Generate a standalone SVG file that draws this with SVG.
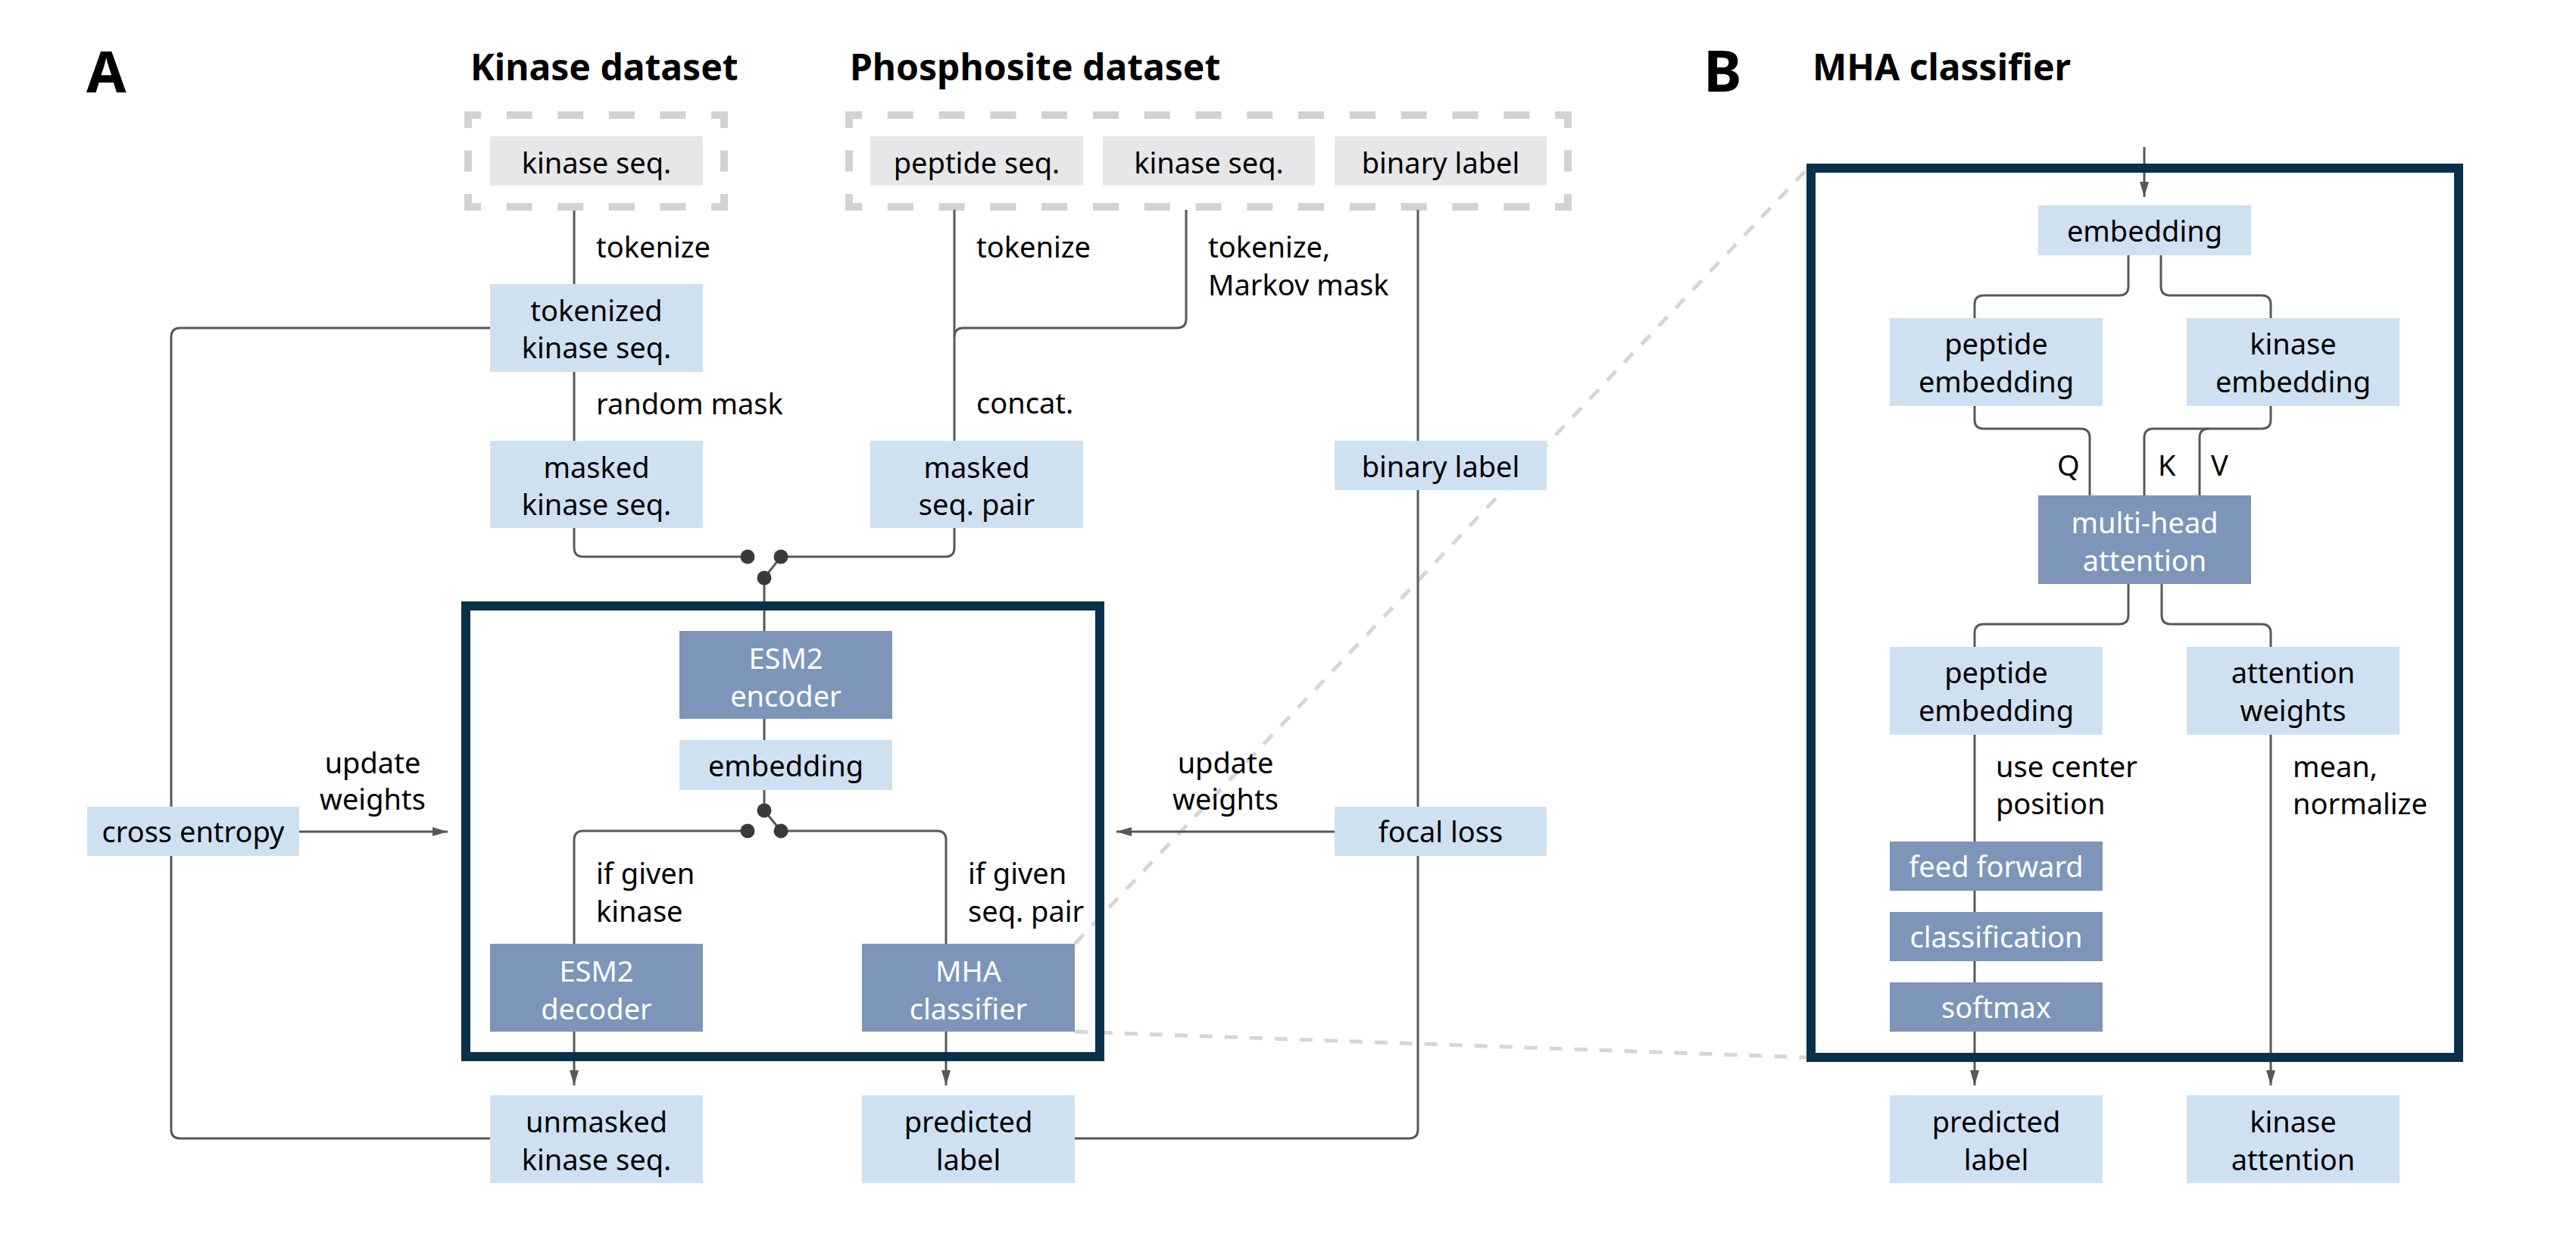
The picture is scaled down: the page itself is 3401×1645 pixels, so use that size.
<svg xmlns="http://www.w3.org/2000/svg" width="3401" height="1645" viewBox="0 0 3401 1645">
<style>
.t{font-family:"Noto Sans","Open Sans","DejaVu Sans",sans-serif;font-size:38px;fill:#000}
.c{text-anchor:middle}
.w{fill:#fff}
.h{font-family:"Noto Sans","Open Sans","DejaVu Sans",sans-serif;font-size:48px;font-weight:700;fill:#000}
.p{font-family:"Noto Sans","Open Sans","DejaVu Sans",sans-serif;font-size:76px;font-weight:700;fill:#000}
.lb{fill:#cfe1f0}
.db{fill:#7d95b9}
.gb{fill:#e6e7e8}
.ln{fill:none;stroke:#58585a;stroke-width:3}
.ar{fill:none;stroke:#58585a;stroke-width:3;marker-end:url(#ah)}
.dot{fill:#3a3a3c}
.dash{fill:none;stroke:#d1d2d4;stroke-width:10}
.zoom{fill:none;stroke:#d6d6d6;stroke-width:5;stroke-dasharray:17 16}
.frame{fill:none;stroke:#08304a;stroke-width:12}
</style>
<defs>
<marker id="ah" markerUnits="userSpaceOnUse" markerWidth="20" markerHeight="12" refX="20" refY="6" orient="auto">
<path d="M0,0 L20,6 L0,12 z" fill="#58585a"/>
</marker>
</defs>
<rect width="3401" height="1645" fill="#fff"/>

<g id="zoom-lines">
<path class="zoom" d="M1419 1246 L2385 224"/>
<path class="zoom" d="M1419 1362 L2385 1396"/>
</g>

<g id="titles">
<text class="p" x="114" y="122">A</text>
<text class="h" x="621" y="106">Kinase dataset</text>
<text class="h" x="1122" y="106">Phosphosite dataset</text>
<text class="p" x="2249" y="121">B</text>
<text class="h" x="2393" y="106">MHA classifier</text>
</g>

<g id="kinase-dataset">
<line class="dash" x1="613" y1="152" x2="961" y2="152" stroke-dasharray="34 33.6" stroke-dashoffset="12"/>
<line class="dash" x1="613" y1="273" x2="961" y2="273" stroke-dasharray="34 33.6" stroke-dashoffset="12"/>
<line class="dash" x1="618" y1="147" x2="618" y2="278" stroke-dasharray="22 29.5 28 29.5 22"/>
<line class="dash" x1="956" y1="147" x2="956" y2="278" stroke-dasharray="22 29.5 28 29.5 22"/>
</g>
<g id="phosphosite-dataset">
<line class="dash" x1="1116" y1="152" x2="2075" y2="152" stroke-dasharray="34 33.79" stroke-dashoffset="12"/>
<line class="dash" x1="1116" y1="273" x2="2075" y2="273" stroke-dasharray="34 33.79" stroke-dashoffset="12"/>
<line class="dash" x1="1121" y1="147" x2="1121" y2="278" stroke-dasharray="22 29.5 28 29.5 22"/>
<line class="dash" x1="2070" y1="147" x2="2070" y2="278" stroke-dasharray="22 29.5 28 29.5 22"/>
</g>

<g id="connectors">
<path class="ln" d="M758 278 V375"/>
<path class="ln" d="M758 491 V582"/>
<path class="ln" d="M647 433 H238 Q226 433 226 445 V1491 Q226 1503 238 1503 H647"/>
<path class="ln" d="M758 697 V723 Q758 735 770 735 H987"/>
<path class="ln" d="M1260 697 V723 Q1260 735 1248 735 H1031"/>
<path class="ln" d="M1031 735 L1009 763"/>
<path class="ln" d="M1009 763 V833"/>
<path class="ln" d="M1009 949 V977"/>
<path class="ln" d="M1009 1043 V1070"/>
<path class="ln" d="M1009 1070 L1031 1097"/>
<path class="ln" d="M987 1097 H770 Q758 1097 758 1109 V1246"/>
<path class="ln" d="M1031 1097 H1237 Q1249 1097 1249 1109 V1246"/>
<path class="ar" d="M758 1362 V1433"/>
<path class="ar" d="M1249 1362 V1433"/>
<path class="ln" d="M1260 277 V582"/>
<path class="ln" d="M1566 277 V421 Q1566 433 1554 433 H1272 Q1260 433 1260 445"/>
<path class="ln" d="M1872 277 V582"/>
<path class="ln" d="M1872 647 V1491 Q1872 1503 1860 1503 H1419"/>
<path class="ar" d="M395 1098 H591"/>
<path class="ar" d="M1762 1098 H1474"/>
<path class="ar" d="M2831 194 V260"/>
<path class="ln" d="M2810 337 V378 Q2810 390 2798 390 H2619 Q2607 390 2607 402 V420"/>
<path class="ln" d="M2853 337 V378 Q2853 390 2865 390 H2986 Q2998 390 2998 402 V420"/>
<path class="ln" d="M2607 536 V554 Q2607 566 2619 566 H2747 Q2759 566 2759 578 V654"/>
<path class="ln" d="M2998 536 V554 Q2998 566 2986 566 H2843 Q2831 566 2831 578 V654"/>
<path class="ln" d="M2916 566 Q2904 566 2904 578 V654"/>
<path class="ln" d="M2810 771 V812 Q2810 824 2798 824 H2619 Q2607 824 2607 836 V854"/>
<path class="ln" d="M2854 771 V812 Q2854 824 2866 824 H2986 Q2998 824 2998 836 V854"/>
<path class="ln" d="M2607 970 V1111"/>
<path class="ln" d="M2607 1176 V1204"/>
<path class="ln" d="M2607 1269 V1297"/>
<path class="ar" d="M2607 1362 V1433"/>
<path class="ar" d="M2998 970 V1433"/>
<circle class="dot" cx="987" cy="735" r="9.5"/>
<circle class="dot" cx="1031" cy="735" r="9.5"/>
<circle class="dot" cx="1009" cy="763" r="9.5"/>
<circle class="dot" cx="1009" cy="1070" r="9.5"/>
<circle class="dot" cx="987" cy="1097" r="9.5"/>
<circle class="dot" cx="1031" cy="1097" r="9.5"/>
</g>

<g id="frames">
<rect class="frame" x="615" y="800" width="837" height="595"/>
<rect class="frame" x="2391" y="222" width="855" height="1174"/>
</g>

<g id="labels">
<text class="t" x="787" y="340">tokenize</text>
<text class="t" x="787" y="547">random mask</text>
<text class="t" x="1289" y="340">tokenize</text>
<text class="t" x="1595" y="340">tokenize,</text>
<text class="t" x="1595" y="390">Markov mask</text>
<text class="t" x="1289" y="546">concat.</text>
<text class="t c" x="492" y="1021">update</text>
<text class="t c" x="492" y="1069">weights</text>
<text class="t c" x="1618" y="1021">update</text>
<text class="t c" x="1618" y="1069">weights</text>
<text class="t" x="787" y="1167">if given</text>
<text class="t" x="787" y="1217">kinase</text>
<text class="t" x="1278" y="1167">if given</text>
<text class="t" x="1278" y="1217">seq. pair</text>
<text class="t" x="2716" y="628">Q</text>
<text class="t" x="2849" y="628">K</text>
<text class="t" x="2919" y="628">V</text>
<text class="t" x="2635" y="1026">use center</text>
<text class="t" x="2635" y="1075">position</text>
<text class="t" x="3027" y="1026">mean,</text>
<text class="t" x="3027" y="1075">normalize</text>
</g>

<g id="n-kinase-seq-1"><rect class="gb" x="647" y="180" width="281" height="65"/><text class="t c" x="787.5" y="229">kinase seq.</text></g>
<g id="n-peptide-seq"><rect class="gb" x="1149" y="180" width="281" height="65"/><text class="t c" x="1289.5" y="229">peptide seq.</text></g>
<g id="n-kinase-seq-2"><rect class="gb" x="1456" y="180" width="280" height="65"/><text class="t c" x="1596" y="229">kinase seq.</text></g>
<g id="n-binary-label-1"><rect class="gb" x="1762" y="180" width="280" height="65"/><text class="t c" x="1902" y="229">binary label</text></g>

<g id="n-tokenized"><rect class="lb" x="647" y="375" width="281" height="116"/><text class="t c" x="787.5" y="424">tokenized</text><text class="t c" x="787.5" y="473">kinase seq.</text></g>
<g id="n-masked-kinase"><rect class="lb" x="647" y="582" width="281" height="115"/><text class="t c" x="787.5" y="631">masked</text><text class="t c" x="787.5" y="680">kinase seq.</text></g>
<g id="n-masked-pair"><rect class="lb" x="1149" y="582" width="281" height="115"/><text class="t c" x="1289.5" y="631">masked</text><text class="t c" x="1289.5" y="680">seq. pair</text></g>
<g id="n-binary-label-2"><rect class="lb" x="1762" y="582" width="280" height="65"/><text class="t c" x="1902" y="630">binary label</text></g>
<g id="n-cross-entropy"><rect class="lb" x="115" y="1065" width="280" height="65"/><text class="t c" x="255" y="1112">cross entropy</text></g>
<g id="n-focal-loss"><rect class="lb" x="1762" y="1065" width="280" height="65"/><text class="t c" x="1902" y="1112">focal loss</text></g>
<g id="n-esm2-encoder"><rect class="db" x="897" y="833" width="281" height="116"/><text class="t c w" x="1037.5" y="883">ESM2</text><text class="t c w" x="1037.5" y="933">encoder</text></g>
<g id="n-embedding-a"><rect class="lb" x="897" y="977" width="281" height="66"/><text class="t c" x="1037.5" y="1025">embedding</text></g>
<g id="n-esm2-decoder"><rect class="db" x="647" y="1246" width="281" height="116"/><text class="t c w" x="787.5" y="1296">ESM2</text><text class="t c w" x="787.5" y="1346">decoder</text></g>
<g id="n-mha-classifier"><rect class="db" x="1138" y="1246" width="281" height="116"/><text class="t c w" x="1278.5" y="1296">MHA</text><text class="t c w" x="1278.5" y="1346">classifier</text></g>
<g id="n-unmasked"><rect class="lb" x="647" y="1446" width="281" height="116"/><text class="t c" x="787.5" y="1495">unmasked</text><text class="t c" x="787.5" y="1545">kinase seq.</text></g>
<g id="n-predicted-a"><rect class="lb" x="1138" y="1446" width="281" height="116"/><text class="t c" x="1278.5" y="1495">predicted</text><text class="t c" x="1278.5" y="1545">label</text></g>

<g id="n-embedding-b"><rect class="lb" x="2691" y="271" width="281" height="66"/><text class="t c" x="2831.5" y="319">embedding</text></g>
<g id="n-peptide-emb-1"><rect class="lb" x="2495" y="420" width="281" height="116"/><text class="t c" x="2635.5" y="468">peptide</text><text class="t c" x="2635.5" y="518">embedding</text></g>
<g id="n-kinase-emb"><rect class="lb" x="2887" y="420" width="281" height="116"/><text class="t c" x="3027.5" y="468">kinase</text><text class="t c" x="3027.5" y="518">embedding</text></g>
<g id="n-mha"><rect class="db" x="2691" y="654" width="281" height="117"/><text class="t c w" x="2831.5" y="704">multi-head</text><text class="t c w" x="2831.5" y="754">attention</text></g>
<g id="n-peptide-emb-2"><rect class="lb" x="2495" y="854" width="281" height="116"/><text class="t c" x="2635.5" y="902">peptide</text><text class="t c" x="2635.5" y="952">embedding</text></g>
<g id="n-attn-weights"><rect class="lb" x="2887" y="854" width="281" height="116"/><text class="t c" x="3027.5" y="902">attention</text><text class="t c" x="3027.5" y="952">weights</text></g>
<g id="n-feed-forward"><rect class="db" x="2495" y="1111" width="281" height="65"/><text class="t c w" x="2635.5" y="1158">feed forward</text></g>
<g id="n-classification"><rect class="db" x="2495" y="1204" width="281" height="65"/><text class="t c w" x="2635.5" y="1251">classification</text></g>
<g id="n-softmax"><rect class="db" x="2495" y="1297" width="281" height="65"/><text class="t c w" x="2635.5" y="1344">softmax</text></g>
<g id="n-predicted-b"><rect class="lb" x="2495" y="1446" width="281" height="116"/><text class="t c" x="2635.5" y="1495">predicted</text><text class="t c" x="2635.5" y="1545">label</text></g>
<g id="n-kinase-attn"><rect class="lb" x="2887" y="1446" width="281" height="116"/><text class="t c" x="3027.5" y="1495">kinase</text><text class="t c" x="3027.5" y="1545">attention</text></g>
</svg>
